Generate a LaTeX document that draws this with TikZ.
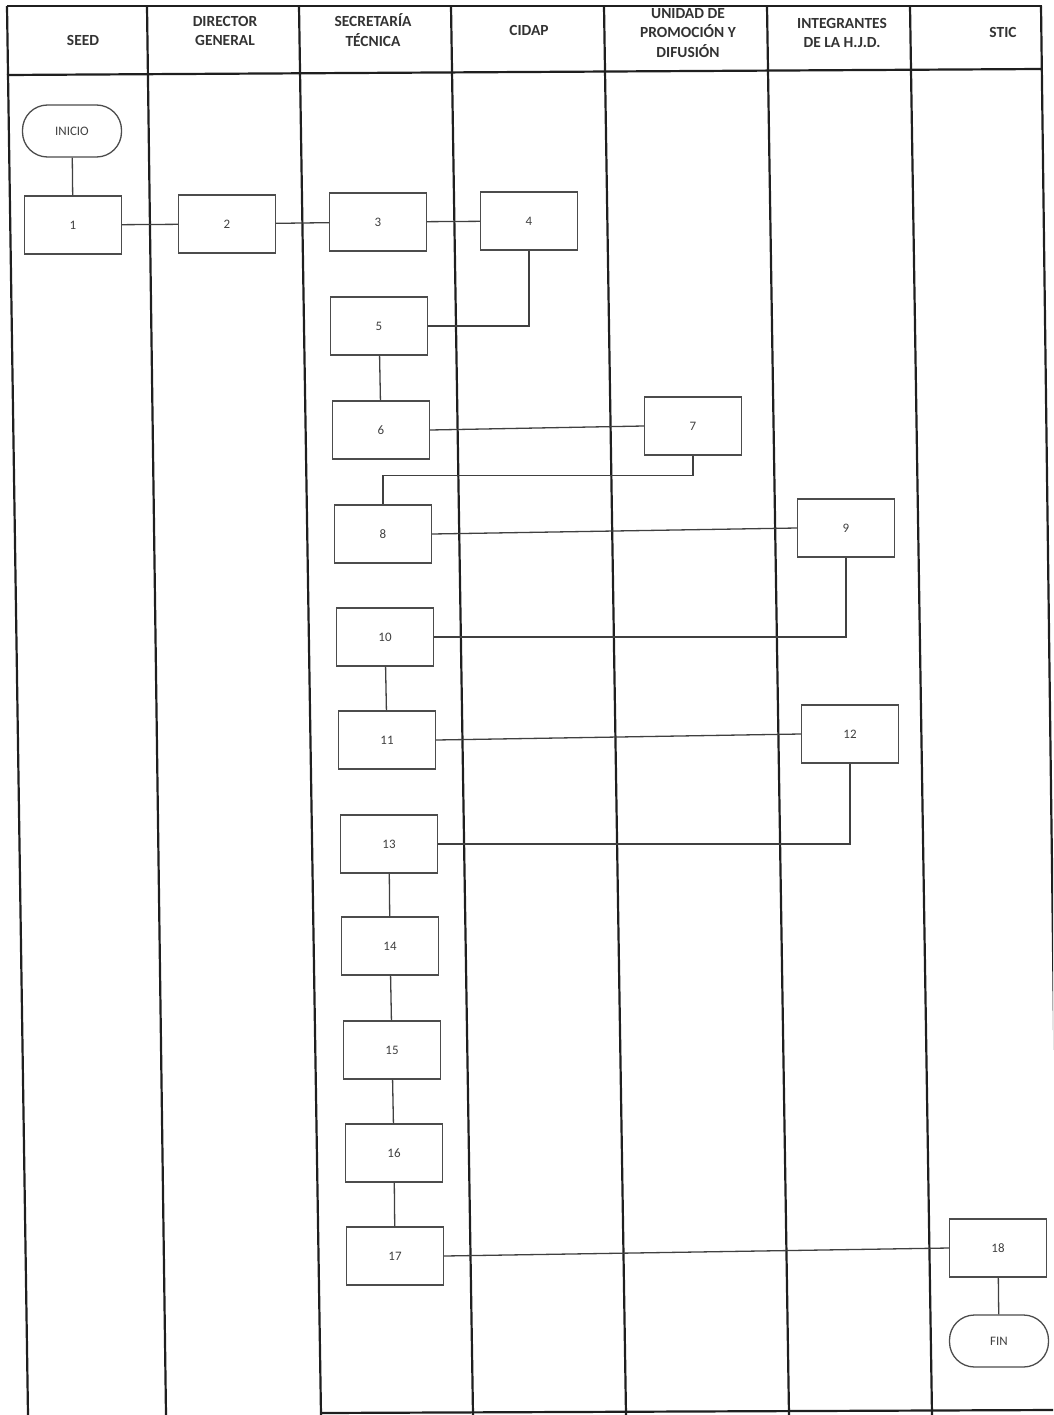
\documentclass[tikz,border=0pt]{standalone}
\usepackage{fontspec}
\setmainfont{Carlito}
\begin{document}
\begin{tikzpicture}[x=1bp,y=-1bp,
  lane/.style={line width=2.2bp,draw=black!88},
  stepbox/.style={draw=black!70,line width=1.3bp,minimum width=97bp,minimum height=58bp,inner sep=0pt,font=\fontsize{13}{15}\selectfont,text=black!75},
  termbox/.style={draw=black!70,line width=1.3bp,rounded corners=25bp,minimum width=99bp,minimum height=52bp,inner sep=0pt,font=\fontsize{13}{15}\selectfont,text=black!75},
  conn/.style={draw=black!75,line width=1.3bp},
  head/.style={align=center,font=\bfseries\fontsize{15.5}{20}\selectfont,text=black!80,inner sep=0pt}]
\useasboundingbox (0,0) rectangle (1053,1415);
\clip (0,0) rectangle (1053,1415);
% header lines
\coordinate (tl) at (7,6);
\coordinate (tr) at (1042,6);
\coordinate (hl) at (7,75);
\coordinate (hr) at (1042,69);
\draw[lane] (tl) -- (tr);
\draw[lane] (hl) -- (hr);
% lane separators
\foreach \i/\a/\b in {0/7/28,1/147/166,2/299/321,3/451/473,4/604/626,5/767/789,6/910/932,7/1041/1059}{
  \coordinate (lt\i) at (\a,6);
  \coordinate (lb\i) at (\b,1415);
  \draw[lane] (lt\i) -- (lb\i);
}
\coordinate (bl) at (320,1413);
\coordinate (br) at (1053,1410);
\draw[lane] (bl) -- (br);
% header texts
\node[head] (h1) at (83,40) {SEED};
\node[head] (h2) at (225,31) {DIRECTOR\\GENERAL};
\node[head] (h3) at (373,30) {SECRETARÍA\\TÉCNICA};
\node[head] (h4) at (529,30) {CIDAP};
\node[head] (h5) at (688,33) {UNIDAD DE\\PROMOCIÓN Y\\DIFUSIÓN};
\node[head] (h6) at (842,33) {INTEGRANTES\\DE LA H.J.D.};
\node[head] (h7) at (1003,32) {STIC};
% nodes
\node[termbox] (ini) at (72,131) {INICIO};
\node[stepbox] (n1) at (73,225) {1};
\node[stepbox] (n2) at (227,224) {2};
\node[stepbox] (n3) at (378,222) {3};
\node[stepbox] (n4) at (529,221) {4};
\node[stepbox] (n5) at (379,326) {5};
\node[stepbox] (n6) at (381,430) {6};
\node[stepbox] (n7) at (693,426) {7};
\node[stepbox] (n8) at (383,534) {8};
\node[stepbox] (n9) at (846,528) {9};
\node[stepbox] (n10) at (385,637) {10};
\node[stepbox] (n11) at (387,740) {11};
\node[stepbox] (n12) at (850,734) {12};
\node[stepbox] (n13) at (389,844) {13};
\node[stepbox] (n14) at (390,946) {14};
\node[stepbox] (n15) at (392,1050) {15};
\node[stepbox] (n16) at (394,1153) {16};
\node[stepbox] (n17) at (395,1256) {17};
\node[stepbox] (n18) at (998,1248) {18};
\node[termbox] (fin) at (999,1341) {FIN};
% connectors
\draw[conn] (ini) -- (n1);
\draw[conn] (n1) -- (n2);
\draw[conn] (n2) -- (n3);
\draw[conn] (n3) -- (n4);
\draw[conn] (n4.south) |- (n5.east);
\draw[conn] (n5) -- (n6);
\draw[conn] (n6.east) -- (n7.west);
\draw[conn] (n7.south) -- ++(0,20) -| (n8.north);
\draw[conn] (n8.east) -- (n9.west);
\draw[conn] (n9.south) |- (n10.east);
\draw[conn] (n10) -- (n11);
\draw[conn] (n11.east) -- (n12.west);
\draw[conn] (n12.south) |- (n13.east);
\draw[conn] (n13) -- (n14);
\draw[conn] (n14) -- (n15);
\draw[conn] (n15) -- (n16);
\draw[conn] (n16) -- (n17);
\draw[conn] (n17.east) -- (n18.west);
\draw[conn] (n18) -- (fin);
\end{tikzpicture}
\end{document}
